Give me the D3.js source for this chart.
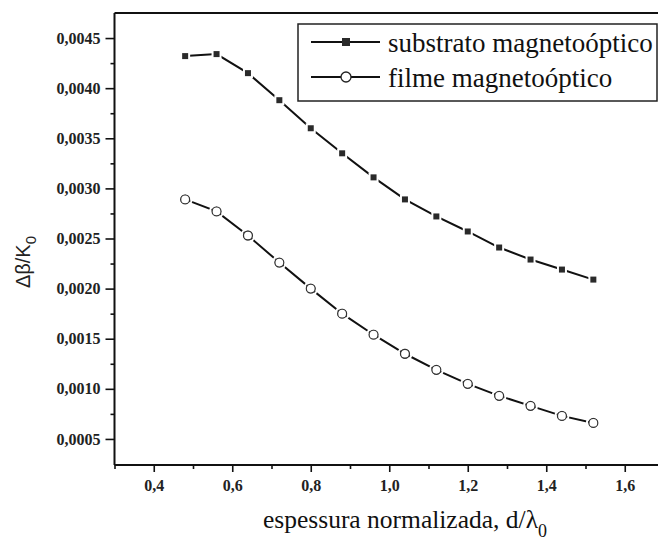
<!DOCTYPE html>
<html>
<head>
<meta charset="utf-8">
<script src="https://cdn.jsdelivr.net/npm/d3@7"></script>
<style>
html,body{margin:0;padding:0;background:#fff;overflow:hidden;}
svg{display:block;}
</style>
</head>
<body>
<svg id="chart" width="658" height="543" viewBox="0 0 658 543"></svg>
<script>
const thickness = [0.48,0.56,0.64,0.72,0.80,0.88,0.96,1.04,1.12,1.20,1.28,1.36,1.44,1.52];
const substrato = [0.00432,0.00434,0.00415,0.00388,0.00360,0.00335,0.00311,0.00289,0.00272,0.00257,0.00241,0.00229,0.00219,0.00209];
const filme = [0.00289,0.00277,0.00253,0.00226,0.00200,0.00175,0.00154,0.00135,0.00119,0.00105,0.00093,0.00083,0.00073,0.00066];
const xTicks = [0.4,0.6,0.8,1.0,1.2,1.4,1.6];
const xMinor = [0.3,0.5,0.7,0.9,1.1,1.3,1.5];
const yTicks = [0.0005,0.0010,0.0015,0.0020,0.0025,0.0030,0.0035,0.0040,0.0045];
const yMinor = [0.00075,0.00125,0.00175,0.00225,0.00275,0.00325,0.00375,0.00425];
const seriesNames = ["substrato magnetoóptico","filme magnetoóptico"];

const SERIF = "Liberation Serif";
const svg = d3.select("#chart");
const x = d3.scaleLinear().domain([0.3,1.7]).range([114.5,664]);
const y = d3.scaleLinear().domain([0.00024,0.00475]).range([465,13]);
const fmtX = d => d3.format(".1f")(d).replace(".",",");
const fmtY = d => d3.format(".4f")(d).replace(".",",");

const x0 = x(0.3), yTop = y(0.00475), yBot = y(0.00024);
// top, left and bottom borders; right border falls outside the picture
svg.append("line").attr("x1",x0).attr("x2",700).attr("y1",yTop).attr("y2",yTop).attr("stroke","#111").attr("stroke-width",2);
svg.append("line").attr("x1",x0).attr("x2",x0).attr("y1",yTop).attr("y2",yBot).attr("stroke","#111").attr("stroke-width",2);
svg.append("line").attr("x1",x0).attr("x2",700).attr("y1",yBot).attr("y2",yBot).attr("stroke","#111").attr("stroke-width",2);

const xAxis = svg.append("g").attr("transform",`translate(0,${yBot})`)
  .call(d3.axisBottom(x).tickValues(xTicks).tickFormat(fmtX).tickSize(7).tickPadding(8));
const xAxisMinor = svg.append("g").attr("transform",`translate(0,${yBot})`)
  .call(d3.axisBottom(x).tickValues(xMinor).tickFormat("").tickSize(4));
const yAxis = svg.append("g").attr("transform",`translate(${x0},0)`)
  .call(d3.axisLeft(y).tickValues(yTicks).tickFormat(fmtY).tickSize(9).tickPadding(5));
const yAxisMinor = svg.append("g").attr("transform",`translate(${x0},0)`)
  .call(d3.axisLeft(y).tickValues(yMinor).tickFormat("").tickSize(4));
[xAxis,xAxisMinor,yAxis,yAxisMinor].forEach(g=>{
  g.attr("font-family",SERIF).attr("font-size",16).attr("font-weight","bold");
  g.select(".domain").remove();
  g.selectAll(".tick line").attr("stroke","#111").attr("stroke-width",1.6);
  g.selectAll("text").attr("fill","#222");
});

const line = d3.line().x(d=>x(d[0])).y(d=>y(d[1]));
const sData = thickness.map((t,i)=>[t,substrato[i]]);
const fData = thickness.map((t,i)=>[t,filme[i]]);
[sData,fData].forEach(dat=>{
  svg.append("path").datum(dat).attr("d",line).attr("fill","none").attr("stroke","#111").attr("stroke-width",2);
});

svg.selectAll(".sq").data(sData).join("rect").attr("class","sq")
  .attr("x",d=>x(d[0])-4).attr("y",d=>y(d[1])-4).attr("width",8).attr("height",8)
  .attr("fill","#2a2a2a").attr("stroke","#fff").attr("stroke-width",2);
svg.selectAll(".ci").data(fData).join("circle").attr("class","ci")
  .attr("cx",d=>x(d[0])).attr("cy",d=>y(d[1])).attr("r",4.5)
  .attr("fill","#fff").attr("stroke","#333").attr("stroke-width",1.3);
svg.selectAll(".cih").data(fData).join("circle").attr("class","cih")
  .attr("cx",d=>x(d[0])).attr("cy",d=>y(d[1])).attr("r",6.5)
  .attr("fill","none").attr("stroke","#fff").attr("stroke-width",2);

const lg = svg.append("g").attr("font-family",SERIF);
lg.append("rect").attr("x",298).attr("y",24).attr("width",359).attr("height",77)
  .attr("fill","#fff").attr("stroke","#222").attr("stroke-width",1.5);
const legY = [42,77];
seriesNames.forEach((name,i)=>{
  lg.append("line").attr("x1",311).attr("x2",380).attr("y1",legY[i]).attr("y2",legY[i]).attr("stroke","#111").attr("stroke-width",1.8);
  if(i===0){
    lg.append("rect").attr("x",342).attr("y",legY[i]-4).attr("width",8).attr("height",8).attr("fill","#2a2a2a");
  } else {
    lg.append("circle").attr("cx",346).attr("cy",legY[i]).attr("r",5).attr("fill","#fff").attr("stroke","#222").attr("stroke-width",1.3);
  }
  lg.append("text").attr("x",388).attr("y",legY[i]+10).attr("font-size",27).attr("fill","#111").text(name);
});

const xt = svg.append("text").attr("font-family",SERIF).attr("x",405).attr("y",528).attr("text-anchor","middle")
  .attr("font-size",25.5).attr("fill","#111");
xt.append("tspan").text("espessura normalizada, d/λ");
xt.append("tspan").attr("dy",9).attr("font-size",18).text("0");

const yt = svg.append("text").attr("transform","translate(30,262) rotate(-90)").attr("text-anchor","middle")
  .attr("font-family","Liberation Sans").attr("font-size",20).attr("fill","#222");
yt.append("tspan").text("Δβ/K");
yt.append("tspan").attr("dy",6).attr("font-size",15).text("0");
</script>
</body>
</html>
